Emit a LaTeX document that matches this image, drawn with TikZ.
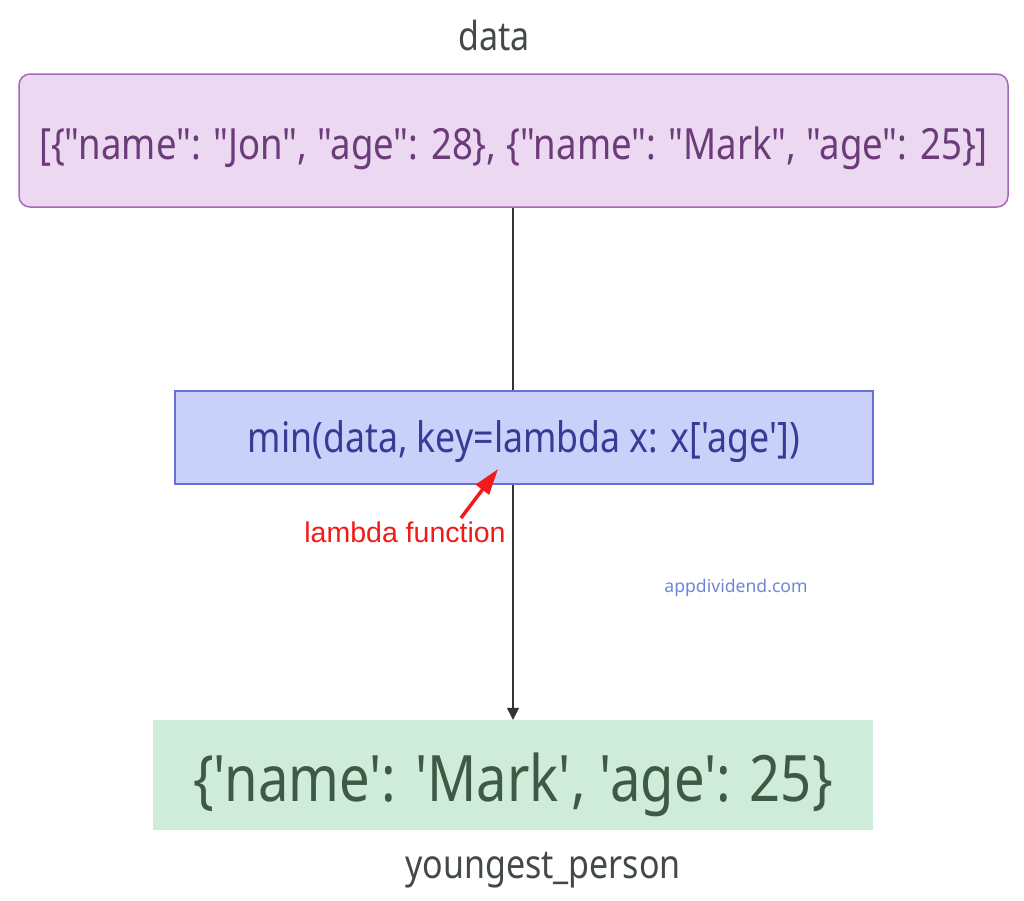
\documentclass[tikz,border=0pt]{standalone}
\usepackage{fontspec}
\setmainfont{Noto Sans}
\newfontfamily\condfont[FakeStretch=0.85]{Noto Sans}
\newfontfamily\arialfont{Liberation Sans}
\usetikzlibrary{arrows.meta,backgrounds}
\definecolor{pfill}{HTML}{ECD9F1}
\definecolor{pdraw}{HTML}{A36AB8}
\definecolor{ptext}{HTML}{6B3B7A}
\definecolor{bfill}{HTML}{C9D1FA}
\definecolor{bdraw}{HTML}{6A6ED6}
\definecolor{btext}{HTML}{3A3A96}
\definecolor{gfill}{HTML}{CFEBD9}
\definecolor{gtext}{HTML}{3D5A44}
\definecolor{ltext}{HTML}{424A43}
\definecolor{wtext}{HTML}{6F86D6}
\definecolor{rtext}{HTML}{F21B1B}
\definecolor{lcol}{HTML}{333333}
\tikzset{
  lbl/.style={text=ltext,font=\condfont\fontsize{40}{46}\selectfont,inner sep=0pt},
  boxp/.style={draw=pdraw,line width=1.5pt,fill=pfill,rounded corners=11pt,minimum width=989pt,minimum height=133pt,text=ptext,font=\condfont\fontsize{43}{50}\selectfont,inner sep=0pt},
  boxb/.style={draw=bdraw,line width=1.5pt,fill=bfill,minimum width=698pt,minimum height=93pt,text=btext,font=\condfont\fontsize{42}{48}\selectfont,inner sep=0pt},
  boxg/.style={fill=gfill,minimum width=720pt,minimum height=110pt,text=gtext,font=\condfont\fontsize{64}{72}\selectfont,inner sep=0pt},
  conn/.style={draw=lcol,line width=1.3pt,-{Triangle[length=12pt,width=12pt]}},
}
\begin{document}
\begin{tikzpicture}[x=1pt,y=-1pt]
\useasboundingbox (0,0) rectangle (1024,900);
\node[lbl] (datalbl) at (494,35) {data};
\node[boxp] (data) at (513.5,140.5) {\smash{\raisebox{-18.5pt}{[\{"name": "Jon", "age": 28\}, \{"name": "Mark", "age": 25\}]}}};
\node[boxb] (minbox) at (524,437.5) {\smash{\raisebox{-15pt}{min(data, key=lambda x: x['age'])}}};
\node[boxg] (res) at (513,775) {\smash{\raisebox{-26pt}{\{'name': 'Mark', 'age': 25\}}}};
\node[lbl] (reslbl) at (543,870) {youngest\_person};
\node[text=rtext,font=\arialfont\fontsize{28.5}{32}\selectfont,inner sep=0pt] (lam) at (405,532) {lambda function};
\node[text=wtext,font=\fontsize{17.6}{20}\selectfont,inner sep=0pt] (wm) at (736,588) {appdividend.com};
\coordinate (lamtail) at (461,518);
\coordinate (lamtip) at (498,469);
\begin{scope}[on background layer]
\draw[conn] (data.south -| res.north) -- (res.north);
\end{scope}
\draw[rtext,line width=3.5pt,-{Triangle[length=26pt,width=16pt]}] (lamtail) -- (lamtip);
\end{tikzpicture}
\end{document}
